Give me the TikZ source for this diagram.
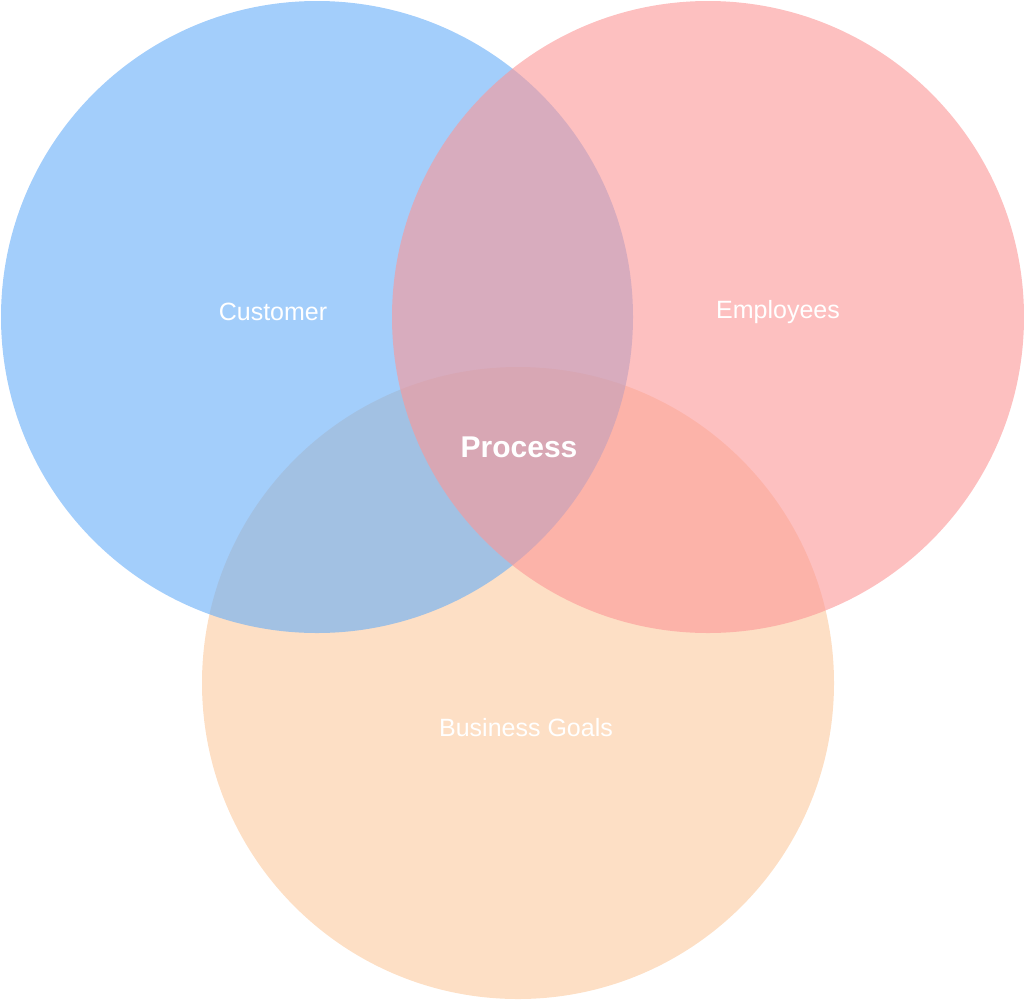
\documentclass[tikz,border=0pt]{standalone}
\usepackage{fontspec}
\setmainfont{Liberation Sans}
\usepackage{tikz}
\definecolor{custblue}{RGB}{102,173,248}
\definecolor{emplred}{RGB}{252,150,150}
\definecolor{goalorange}{RGB}{252,202,158}
\tikzset{vennset/.style={fill opacity=0.6, draw=none},
  vennlabel/.style={text=white, font=\fontsize{25}{30}\selectfont}}

\begin{document}
\begin{tikzpicture}[x=1pt,y=-1pt]
  \useasboundingbox (0,0) rectangle (1024,999);
  \fill[vennset, goalorange] (518,683) circle (316);
  \fill[vennset, custblue]   (317,317) circle (316);
  \fill[vennset, emplred]    (708,317) circle (316);
  \node[vennlabel] (customer)  at (273,312) {Customer};
  \node[vennlabel] (employees) at (778,312) {Employees};
  \node[vennlabel] (goals)     at (526,728) {Business Goals};
  \node[vennlabel, font=\fontsize{30}{36}\selectfont\bfseries] (process) at (519,447) {Process};
\end{tikzpicture}
\end{document}
